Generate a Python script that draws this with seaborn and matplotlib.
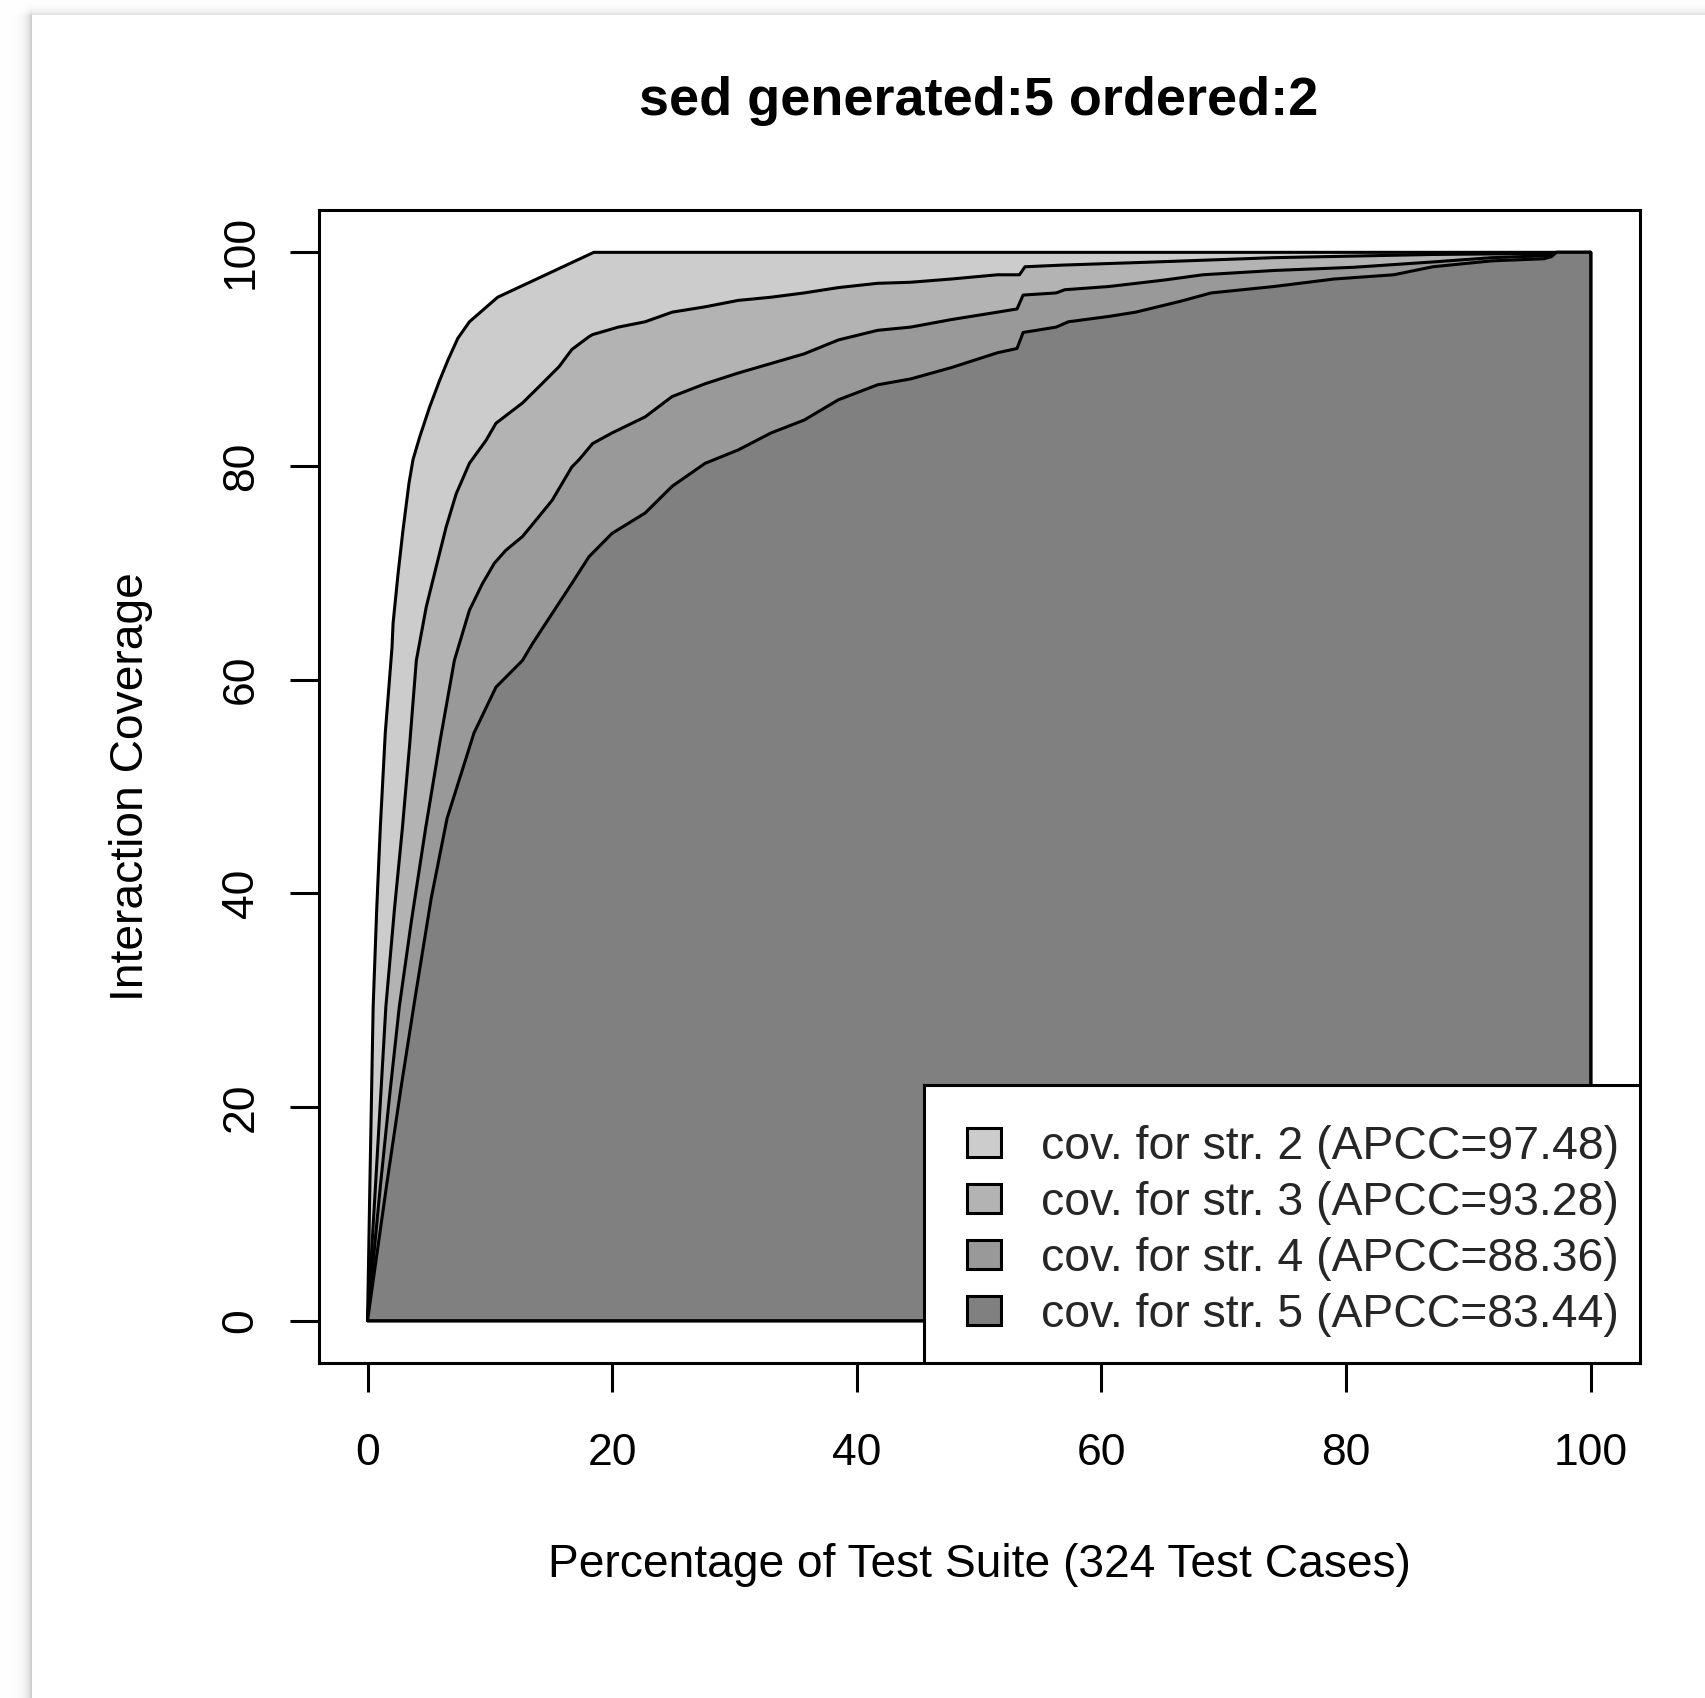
import numpy as np
import pandas as pd
import seaborn as sns
import matplotlib
matplotlib.use("Agg")
import matplotlib.pyplot as plt
import matplotlib.patches as mpatches

# ---------------- data ----------------
title = "sed generated:5 ordered:2"
xlabel = "Percentage of Test Suite (324 Test Cases)"
ylabel = "Interaction Coverage"
labels = ["cov. for str. 2 (APCC=97.48)", "cov. for str. 3 (APCC=93.28)",
          "cov. for str. 4 (APCC=88.36)", "cov. for str. 5 (APCC=83.44)"]
fills = ["#cccccc", "#b3b3b3", "#999999", "#808080"]
ticks = [0, 20, 40, 60, 80, 100]

x_s2 = [0, 0.19, 0.46, 0.75, 1.05, 1.45, 2.0, 2.09, 2.5, 2.9, 3.39, 3.72, 4.26,
        5.07, 5.89, 6.57, 7.38, 8.33, 10.64, 18.5, 100]
y_s2 = [0, 12.6, 29.4, 38.5, 46.3, 55.0, 63.0, 65.3, 69.96, 74.0, 78.4, 80.6, 82.7,
        85.5, 88.0, 89.9, 91.95, 93.5, 95.8, 100, 100]

x_s3 = [0, 0.65, 1.5, 2.2, 2.85, 3.45, 3.99, 4.8, 5.62, 6.43, 7.25, 8.33, 9.69, 10.5,
        12.67, 14.0, 15.66, 16.7, 18.1, 18.4, 20.5, 22.7, 24.9, 27.6, 30.3, 33.0,
        35.7, 38.5, 41.7, 44.4, 47.7, 51.5, 53.3, 53.75, 56.7, 64.4, 74.1, 87.1,
        96.8, 100]
y_s3 = [0, 12.6, 29.4, 38.5, 46.1, 54.0, 61.8, 66.8, 70.6, 74.3, 77.4, 80.25, 82.4,
        84.0, 85.9, 87.4, 89.3, 90.9, 92.1, 92.3, 93.0, 93.5, 94.4, 94.9, 95.5,
        95.8, 96.2, 96.7, 97.1, 97.2, 97.5, 97.9, 97.9, 98.65, 98.8, 99.1, 99.5,
        99.8, 99.9, 100]

x_s4 = [0, 1.05, 1.8, 2.6, 3.6, 4.75, 5.95, 7.1, 8.33, 9.4, 10.37, 11.3, 12.67, 14.0,
        15.1, 16.7, 17.3, 18.4, 20.0, 22.7, 24.9, 27.6, 30.3, 33.0, 35.7, 38.5,
        41.7, 44.4, 47.7, 51.5, 53.1, 53.6, 56.3, 57.0, 60.6, 65.1, 68.3, 74.1,
        80.6, 87.1, 91.9, 96.8, 97.2, 100]
y_s4 = [0, 12.6, 21.0, 29.4, 37.5, 46.1, 54.4, 61.8, 66.5, 69.0, 70.9, 72.1, 73.4,
        75.25, 76.8, 79.9, 80.6, 82.1, 83.1, 84.6, 86.5, 87.7, 88.7, 89.6, 90.5,
        91.8, 92.7, 93.0, 93.7, 94.4, 94.7, 96.0, 96.2, 96.5, 96.8, 97.4, 97.9,
        98.3, 98.6, 99.1, 99.5, 99.7, 100, 100]

x_s5 = [0, 1.6, 2.75, 3.9, 5.2, 6.5, 8.7, 10.5, 12.67, 13.5, 15.1, 16.7, 18.1,
        20.0, 22.7, 24.9, 27.6, 30.3, 33.0, 35.7, 38.5, 41.7, 44.4, 47.7, 51.5,
        53.1, 53.6, 56.3, 57.3, 60.6, 62.8, 66.4, 68.97, 74.1, 79.0, 83.9, 87.1,
        91.9, 96.2, 96.8, 97.2, 100]
y_s5 = [0, 13.0, 21.9, 30.3, 39.5, 47.0, 55.0, 59.3, 61.8, 63.4, 66.2, 69.0, 71.5,
        73.7, 75.6, 78.1, 80.25, 81.5, 83.1, 84.3, 86.2, 87.6, 88.15, 89.2, 90.6,
        91.0, 92.5, 93.0, 93.5, 94.0, 94.4, 95.4, 96.2, 96.8, 97.5, 97.9, 98.65,
        99.2, 99.4, 99.6, 100, 100]

series = [(x_s2, y_s2), (x_s3, y_s3), (x_s4, y_s4), (x_s5, y_s5)]

# ---------------- style ----------------
sns.set_theme(style="white")
plt.rcParams["font.family"] = ["Liberation Sans", "DejaVu Sans"]

W, H, DPI = 1705, 1698, 100
fig = plt.figure(figsize=(W / DPI, H / DPI), dpi=DPI, facecolor="white")

# drop shadow of the page (left and top edges), on a background axes
yy, xx = np.mgrid[0:H, 0:W]
px, py = 32, 15
dx = np.clip(px - xx, 0, None).astype(float)
dy = np.clip(py - yy, 0, None).astype(float)
dark = np.where(dx > 0, 0.24 * np.exp(-dx / 5.0) * np.exp(-dy / 4.0), 0.0)
dark = np.maximum(dark, np.where(dy > 0, 0.14 * np.exp(-dy / 4.5) * np.exp(-dx / 5.0), 0.0))
img = np.ones((H, W, 3)) * (1 - dark)[..., None]
bg = fig.add_axes([0, 0, 1, 1], zorder=-10)
bg.imshow(img, origin="upper", aspect="auto", interpolation="nearest",
          extent=[0, W, H, 0])
bg.set_axis_off()

LW = 2.2
AX_L, AX_W, AX_B, AX_H = 318.6, 1321.0, 1363.4, 1153.8
ax = fig.add_axes([AX_L / W, 1 - AX_B / H, AX_W / W, AX_H / H], zorder=1)
ax.set_facecolor("white")
ax.set_xlim(-4, 104)
ax.set_ylim(-4, 104)

for (xs, ys), c in zip(series, fills):
    df = pd.DataFrame({"x": xs + [100], "y": ys + [0]})
    ax.fill(df["x"], df["y"], facecolor=c, edgecolor="black", linewidth=LW,
            joinstyle="round", zorder=2)

for s in ax.spines.values():
    s.set_visible(True)
    s.set_color("black")
    s.set_linewidth(LW)

ax.set_xticks(ticks)
ax.set_yticks(ticks)
ax.set_xticklabels([str(t) for t in ticks])
ax.set_yticklabels([str(t) for t in ticks], rotation=90, va="center")
ax.tick_params(axis="both", which="major", length=21, width=LW, color="black",
               direction="out", labelsize=32, labelcolor="black")
ax.tick_params(axis="x", pad=29, bottom=True)
ax.tick_params(axis="y", pad=20, left=True)

ax.set_xlabel(xlabel, fontsize=33.2, color="black")
ax.xaxis.set_label_coords(0.5, (AX_B - 1565) / AX_H)
ax.xaxis.label.set_va("center")
ax.set_ylabel(ylabel, fontsize=33.2, color="black")
ax.yaxis.set_label_coords((130.7 - AX_L) / AX_W, 0.5)
ax.yaxis.label.set_va("center")

ax.text(0.5, 1 + (AX_B - AX_H - 115) / AX_H, title, transform=ax.transAxes,
        ha="center", va="baseline", fontsize=38.9, fontweight="bold", color="black")

# legend frame (R-style square box flush with the bottom-right corner)
fx0 = (924.3 - AX_L) / AX_W
ax.add_patch(mpatches.Rectangle((fx0, 0), 1 - fx0, (AX_B - 1085.2) / AX_H,
                                transform=ax.transAxes, facecolor="white",
                                edgecolor="black", linewidth=LW, zorder=4))

handles = [mpatches.Patch(facecolor=c, edgecolor="black", linewidth=LW) for c in fills]
leg = ax.legend(handles, labels, loc="lower right",
                bbox_to_anchor=((1619.5 - AX_L) / AX_W, (AX_B - 1337.1) / AX_H),
                borderaxespad=0, fontsize=33.4, frameon=False, borderpad=0,
                labelspacing=0.26, handlelength=0.754, handleheight=0.6,
                handletextpad=0.86)
leg.set_zorder(5)

fig.savefig("out.png", dpi=DPI, facecolor="white")
